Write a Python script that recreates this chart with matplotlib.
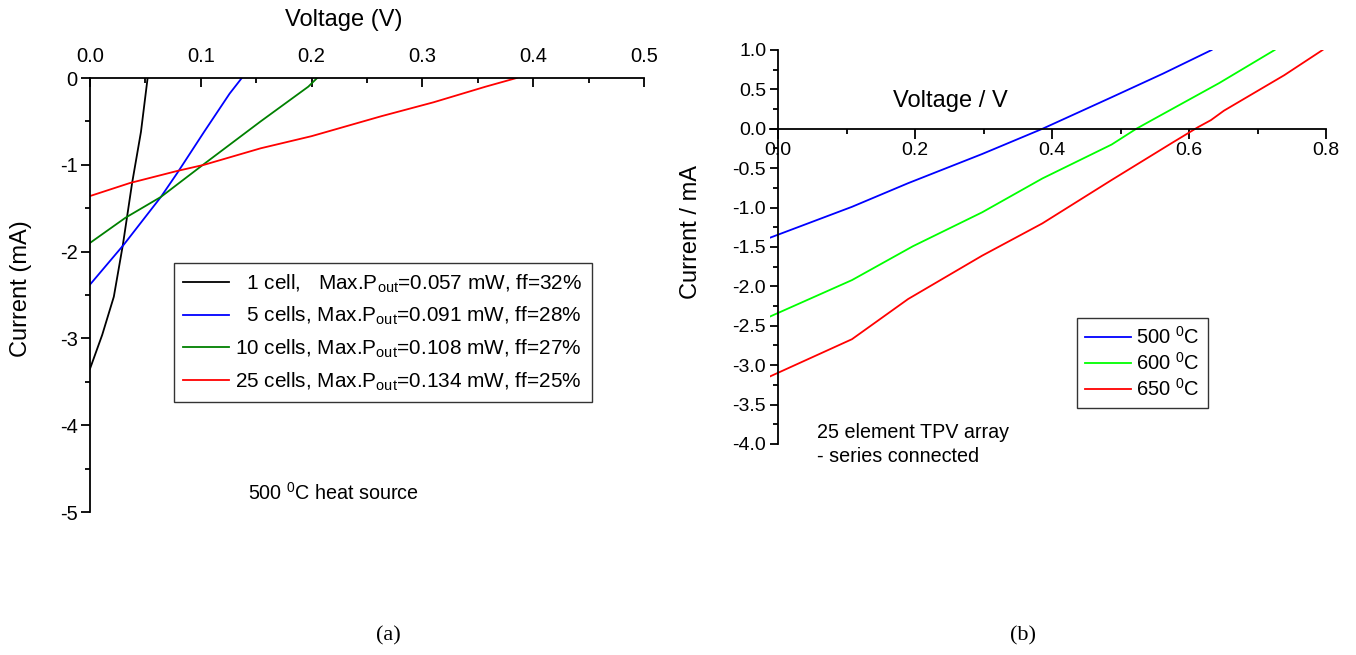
import matplotlib
matplotlib.use("Agg")
import matplotlib.pyplot as plt
import matplotlib.font_manager as fm
from matplotlib.ticker import MultipleLocator, FormatStrFormatter

# --- fonts: condensed Arial look for legend / notes, regular for axes ---
names = {f.name for f in fm.fontManager.ttflist}
if "Liberation Sans Narrow" in names:
    NARROW, NS = "Liberation Sans Narrow", 1.0
else:
    NARROW, NS = "Liberation Sans", 0.88
REG = "Liberation Sans"

matplotlib.rcParams["font.family"] = REG
matplotlib.rcParams["axes.unicode_minus"] = False
matplotlib.rcParams["mathtext.fontset"] = "custom"
matplotlib.rcParams["mathtext.rm"] = NARROW
matplotlib.rcParams["mathtext.it"] = NARROW

# --- (a) I-V curves, 500 C heat source, different cell counts ---
v_1cell = [0.0, 0.011, 0.0215, 0.0297, 0.038, 0.046, 0.052]
i_1cell = [-3.35, -2.96, -2.52, -1.92, -1.21, -0.62, 0.0]
v_5cell = [0.0, 0.0305, 0.064, 0.079, 0.103, 0.126, 0.137]
i_5cell = [-2.38, -1.92, -1.37, -1.09, -0.62, -0.18, 0.0]
v_10cell = [0.0, 0.032, 0.064, 0.103, 0.154, 0.197, 0.205]
i_10cell = [-1.90, -1.61, -1.37, -0.99, -0.50, -0.10, 0.0]
v_25cell = [0.0, 0.036, 0.079, 0.103, 0.154, 0.2, 0.263, 0.31, 0.357, 0.385]
i_25cell = [-1.36, -1.21, -1.07, -1.00, -0.81, -0.67, -0.44, -0.28, -0.10, 0.0]

labels_a = [
    "  1 cell,   Max.P$_{\\mathrm{out}}$=0.057 mW, ff=32%",
    "  5 cells, Max.P$_{\\mathrm{out}}$=0.091 mW, ff=28%",
    "10 cells, Max.P$_{\\mathrm{out}}$=0.108 mW, ff=27%",
    "25 cells, Max.P$_{\\mathrm{out}}$=0.134 mW, ff=25%",
]
colors_a = ["black", "#0000ff", "#008000", "#ff0000"]

# --- (b) 25 element array at three temperatures ---
v_500 = [-0.011, 0.108, 0.19, 0.298, 0.386, 0.487, 0.562, 0.633]
i_500 = [-1.38, -0.99, -0.69, -0.32, 0.0, 0.40, 0.70, 1.0]
v_600 = [-0.011, 0.108, 0.197, 0.298, 0.386, 0.487, 0.523, 0.55, 0.644, 0.725]
i_600 = [-2.38, -1.92, -1.49, -1.06, -0.63, -0.20, 0.0, 0.13, 0.58, 1.0]
v_650 = [-0.011, 0.108, 0.19, 0.298, 0.386, 0.487, 0.575, 0.613, 0.632, 0.651, 0.739, 0.795]
i_650 = [-3.14, -2.67, -2.16, -1.61, -1.20, -0.65, -0.18, 0.02, 0.11, 0.23, 0.68, 1.0]

labels_b = ["500 $^{\\mathrm{0}}$C", "600 $^{\\mathrm{0}}$C", "650 $^{\\mathrm{0}}$C"]
colors_b = ["#0000ff", "#00ff00", "#ff0000"]

W, H = 1356, 655
fig = plt.figure(figsize=(W / 100, H / 100), dpi=100)


def px(x, y):
    return x / W, 1 - y / H


# ---------------- panel (a) ----------------
ax1 = fig.add_axes([90 / W, 1 - 512 / H, (644 - 90) / W, (512 - 78) / H])
for v, i, lab, c in zip([v_1cell, v_5cell, v_10cell, v_25cell],
                        [i_1cell, i_5cell, i_10cell, i_25cell], labels_a, colors_a):
    ax1.plot(v, i, color=c, lw=1.3, label=lab)
ax1.set_xlim(0, 0.5)
ax1.set_ylim(-5, 0)
ax1.spines["bottom"].set_visible(False)
ax1.spines["right"].set_visible(False)
for s in ("top", "left"):
    ax1.spines[s].set_linewidth(1.3)
ax1.xaxis.tick_top()
ax1.xaxis.set_major_locator(MultipleLocator(0.1))
ax1.xaxis.set_minor_locator(MultipleLocator(0.05))
ax1.xaxis.set_major_formatter(FormatStrFormatter("%.1f"))
ax1.yaxis.set_major_locator(MultipleLocator(1))
ax1.yaxis.set_minor_locator(MultipleLocator(0.5))
ax1.yaxis.set_major_formatter(FormatStrFormatter("%d"))
ax1.tick_params(axis="x", which="both", direction="in", top=True, bottom=False,
                labelsize=14.5, pad=9, width=1.3)
ax1.tick_params(axis="y", which="both", direction="out", labelsize=14.5, pad=2.5, width=1.3)
ax1.tick_params(which="major", length=6.5)
ax1.tick_params(which="minor", length=3.8)

leg1 = ax1.legend(loc="upper left", bbox_to_anchor=px(174, 263),
                  bbox_transform=fig.transFigure, borderaxespad=0,
                  prop={"family": NARROW, "size": 17 * NS}, frameon=True,
                  fancybox=False, edgecolor="#333333", framealpha=1,
                  handlelength=2.2, handletextpad=0.3, labelspacing=0.5,
                  borderpad=0.45)
leg1.get_frame().set_linewidth(1.0)

fig.text(*px(344, 20), "Voltage (V)", ha="center", va="center", fontsize=17)
fig.text(*px(21, 289), "Current (mA)", ha="center", va="center", rotation=90, fontsize=17)
fig.text(*px(248, 493), "500 $^{\\mathrm{0}}$C heat source", ha="left", va="center",
         family=NARROW, fontsize=16.2 * NS)

# ---------------- panel (b) ----------------
x0 = 778 - 0.012 * 685
ax2 = fig.add_axes([x0 / W, 1 - 444 / H, (1326 - x0) / W, (444 - 50) / H])
for v, i, lab, c in zip([v_500, v_600, v_650], [i_500, i_600, i_650], labels_b, colors_b):
    ax2.plot(v, i, color=c, lw=1.3, label=lab)
ax2.set_xlim(-0.012, 0.8)
ax2.set_ylim(-4, 1)
ax2.spines["top"].set_visible(False)
ax2.spines["right"].set_visible(False)
ax2.spines["left"].set_position(("data", 0))
ax2.spines["bottom"].set_position(("data", 0))
for s in ("bottom", "left"):
    ax2.spines[s].set_linewidth(1.3)
ax2.xaxis.set_major_locator(MultipleLocator(0.2))
ax2.xaxis.set_minor_locator(MultipleLocator(0.1))
ax2.xaxis.set_major_formatter(FormatStrFormatter("%.1f"))
ax2.yaxis.set_major_locator(MultipleLocator(0.5))
ax2.yaxis.set_minor_locator(MultipleLocator(0.25))
ax2.yaxis.set_major_formatter(FormatStrFormatter("%.1f"))
ax2.tick_params(axis="x", which="both", direction="out", labelsize=14, pad=2.5, width=1.3)
ax2.tick_params(axis="y", which="both", direction="out", labelsize=14, pad=2.5, width=1.3)
ax2.tick_params(axis="x", which="major", length=7)
ax2.tick_params(axis="y", which="major", length=6)
ax2.tick_params(which="minor", length=3.8)

leg2 = ax2.legend(loc="upper left", bbox_to_anchor=px(1077, 318),
                  bbox_transform=fig.transFigure, borderaxespad=0,
                  prop={"family": NARROW, "size": 16.5 * NS}, frameon=True,
                  fancybox=False, edgecolor="#333333", framealpha=1,
                  handlelength=2.3, handletextpad=0.25, labelspacing=0.2,
                  borderpad=0.4)
leg2.get_frame().set_linewidth(1.0)

fig.text(*px(893, 101), "Voltage / V", ha="left", va="center", fontsize=17)
fig.text(*px(691, 232), "Current / mA", ha="center", va="center", rotation=90, fontsize=17)
fig.text(*px(817, 433), "25 element TPV array", ha="left", va="center",
         family=NARROW, fontsize=16.2 * NS)
fig.text(*px(817, 456), "- series connected", ha="left", va="center",
         family=NARROW, fontsize=16.2 * NS)

# ---------------- panel captions ----------------
fig.text(*px(388, 636), "(a)", ha="center", va="center", family="Liberation Serif", fontsize=16)
fig.text(*px(1023, 636), "(b)", ha="center", va="center", family="Liberation Serif", fontsize=16)

fig.savefig("out.png", dpi=100)
